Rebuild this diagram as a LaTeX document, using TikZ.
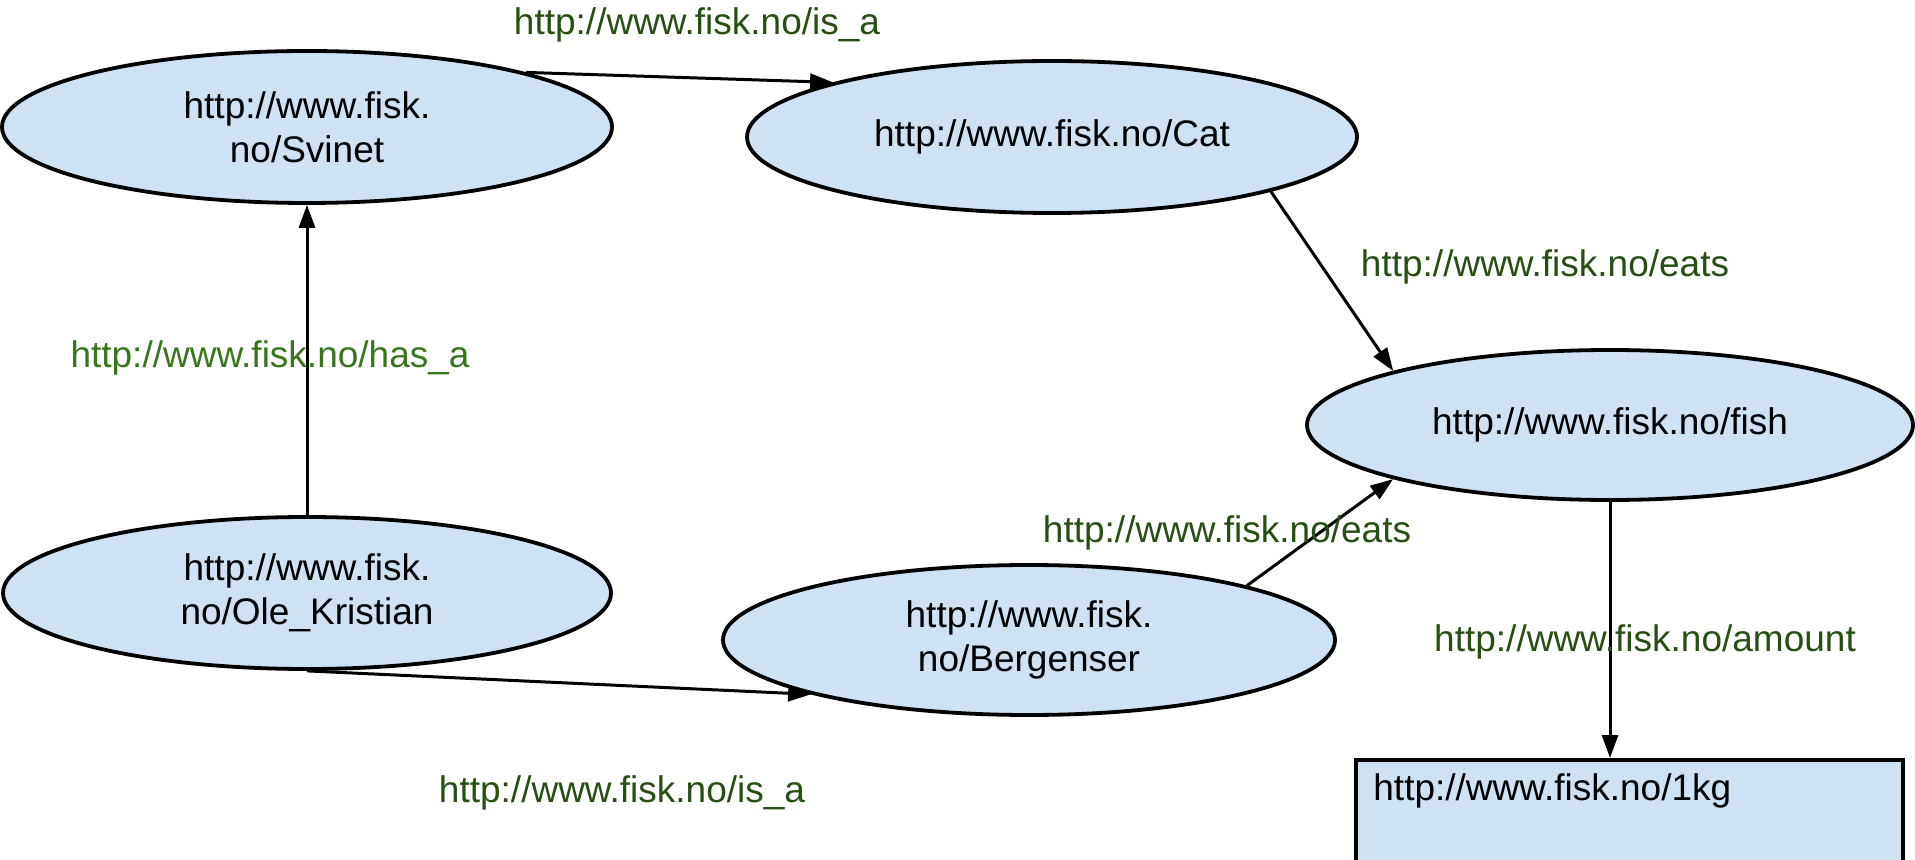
\documentclass[tikz,border=0pt]{standalone}
\usepackage{fontspec}
\setmainfont{Liberation Sans}
\usetikzlibrary{shapes.geometric,arrows.meta,calc}
\definecolor{nodefill}{HTML}{CFE2F3}
\definecolor{lbldark}{HTML}{274E13}
\definecolor{lbllight}{HTML}{38761D}
\tikzset{
  ent/.style={ellipse, draw=black, line width=1.9pt, fill=nodefill, inner sep=0pt,
    align=center, font=\fontsize{18.5}{22}\selectfont},
  litbox/.style={rectangle, draw=black, line width=1.9pt, fill=nodefill, inner sep=0pt,
    anchor=north west, minimum width=273.5pt, minimum height=100pt},
  plain/.style={inner sep=0pt, font=\fontsize{18.5}{22}\selectfont},
  rel/.style={plain, text=lbldark},
  rellight/.style={plain, text=lbllight},
  link/.style={line width=1.5pt, draw=black, -{Triangle[length=11.5pt,width=8pt]}}
}
\begin{document}
\begin{tikzpicture}[x={(0.5pt,0)}, y={(0,-0.5pt)}]
\useasboundingbox (0,0) rectangle (1915,860);
\clip (0,0) rectangle (1915,860);
% entities
\node[ent, minimum width=305pt, minimum height=76pt] (sv) at (307,127) {http://www.fisk.\\no/Svinet};
\node[ent, minimum width=305pt, minimum height=76pt] (cat) at (1052,137) {http://www.fisk.no/Cat};
\node[ent, minimum width=303pt, minimum height=75pt] (fish) at (1610,425) {http://www.fisk.no/fish};
\node[ent, minimum width=304pt, minimum height=76pt] (ole) at (307,593) {http://www.fisk.\\no/Ole\_Kristian};
\node[ent, minimum width=306pt, minimum height=75pt] (berg) at (1029,640) {http://www.fisk.\\no/Bergenser};
\node[litbox] (kg) at (1354,758) {};
\node[plain, anchor=base west] (kgtext) at (1373,800) {http://www.fisk.no/1kg};
% connectors
\draw[link] (sv.14) -- (cat.166.6);
\draw[link] (ole.north) -- (sv.south);
\draw[link] (cat.-14.4) -- (fish.166);
\draw[link] (ole.south) -- (berg.194);
\draw[link] (berg.14.2) -- (fish.194.8);
\draw[link] (fish.south) -- (fish.south |- kg.north);
% labels
\node[rel] (l1) at (697,25) {http://www.fisk.no/is\_a};
\node[rellight] (l2) at (270,358) {http://www.fisk.no/has\_a};
\node[rel] (l3) at (1545,267) {http://www.fisk.no/eats};
\node[rel] (l4) at (1227,533) {http://www.fisk.no/eats};
\node[rel] (l5) at (622,793) {http://www.fisk.no/is\_a};
\node[rel] (l6) at (1645,642) {http://www.fisk.no/amount};
\end{tikzpicture}
\end{document}
